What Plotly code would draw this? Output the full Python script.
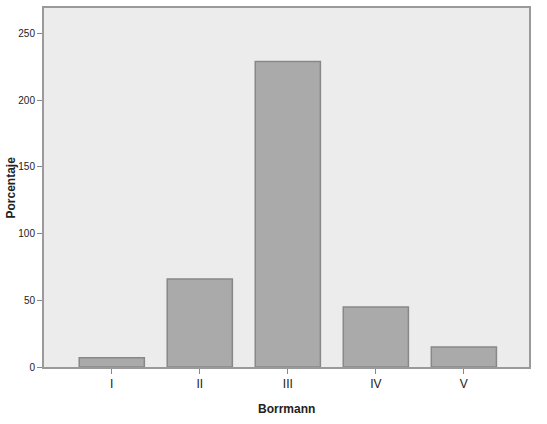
import plotly.graph_objects as go

categories = ['I', 'II', 'III', 'IV', 'V']
values = [7, 66, 229, 45, 15]
y_ticks = [0, 50, 100, 150, 200, 250]

fig = go.Figure()
fig.add_trace(go.Bar(
    x=list(range(len(categories))),
    y=values,
    width=0.74,
    marker=dict(color='#aaaaaa', line=dict(color='#888888', width=1.5)),
))

axis_line = '#9a9a9a'
fig.update_layout(
    width=547,
    height=424,
    margin=dict(l=44, r=18, t=8, b=57),
    paper_bgcolor='white',
    plot_bgcolor='#ececec',
    font=dict(family='Arial, Liberation Sans', size=10, color='#222222'),
    showlegend=False,
    xaxis=dict(
        tickmode='array',
        tickvals=list(range(len(categories))),
        ticktext=categories,
        range=[-0.77, 4.74],
        showgrid=False,
        zeroline=False,
        showline=True,
        linecolor=axis_line,
        linewidth=2,
        mirror=True,
        ticks='outside',
        ticklen=5,
        tickcolor='#888888',
        tickfont=dict(size=12),
        automargin=False,
    ),
    yaxis=dict(
        tickmode='array',
        tickvals=y_ticks,
        range=[0, 269],
        showgrid=False,
        zeroline=False,
        showline=True,
        linecolor=axis_line,
        linewidth=2,
        mirror=True,
        ticks='outside',
        ticklen=5,
        tickcolor='#888888',
        ticklabelstandoff=0,
        automargin=False,
    ),
    annotations=[
        dict(text='<b>Borrmann</b>', xref='paper', yref='paper', x=0.5, y=-0.117,
             xanchor='center', yanchor='middle', showarrow=False, font=dict(size=12)),
        dict(text='<b>Porcentaje</b>', xref='paper', yref='paper', x=-0.07, y=0.5,
             xanchor='center', yanchor='middle', textangle=-90, showarrow=False,
             font=dict(size=12)),
    ],
)

# drop the page's default body margin so the figure sits in the corner
fig.write_html("out.html", config={'displayModeBar': False},
               post_script="document.body.style.margin = '0';")
